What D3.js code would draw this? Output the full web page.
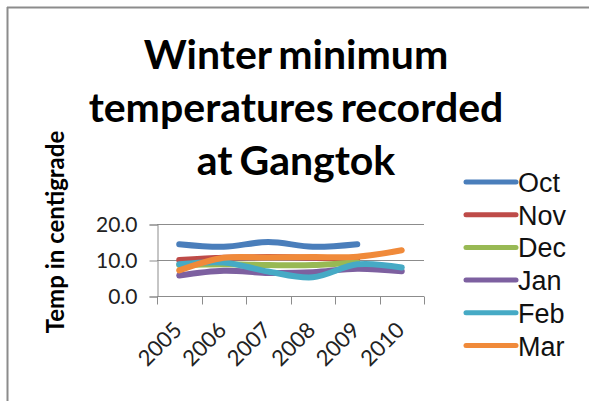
<!DOCTYPE html>
<html>
<head>
<meta charset="utf-8">
<title>Winter minimum temperatures recorded at Gangtok</title>
<style>
  html, body { margin: 0; padding: 0; background: #fff; }
  svg { display: block; }
</style>
</head>
<body>
<svg id="chart" width="589" height="401"></svg>
<script src="https://d3js.org/d3.v7.min.js"></script>
<script>

// data (null = no reading)
const years = ["2005", "2006", "2007", "2008", "2009", "2010"];
const months = ["Oct", "Nov", "Dec", "Jan", "Feb", "Mar"];
const oct = [14.4, 13.7, 15.0, 13.7, 14.4, null];
const nov = [10.0, 10.6, 10.8, 10.6, 10.4, null];
const dec = [8.6, 8.8, 8.6, 8.6, 9.4, null];
const jan = [5.7, 7.0, 6.4, 6.6, 7.6, 6.9];
const feb = [8.8, 9.3, 6.8, 5.2, 8.8, 7.9];
const mar = [7.1, 10.6, 10.7, 10.8, 10.9, 12.7];
const yTicks = [0, 10, 20];
const titleLines = ["Winter minimum", "temperatures recorded", "at Gangtok"];

const series = [oct, nov, dec, jan, feb, mar];
const colors = ["#4a7ebb", "#be4b48", "#98b954", "#7d60a0", "#46aac5", "#f08a3a"];

const svg = d3.select("#chart");

// frame (only top and left edges show)
svg.append("line").attr("x1", 7).attr("x2", 589).attr("y1", 7.5).attr("y2", 7.5)
  .attr("stroke", "#8c8c8c").attr("stroke-width", 2);
svg.append("line").attr("x1", 7.5).attr("x2", 7.5).attr("y1", 7).attr("y2", 401)
  .attr("stroke", "#8c8c8c").attr("stroke-width", 2);

// title
svg.append("g").selectAll("text")
  .data(titleLines)
  .join("text")
    .attr("x", 296)
    .attr("y", (d, i) => 69 + i * 53)
    .attr("text-anchor", "middle")
    .attr("font-family", "Lato, 'Open Sans', sans-serif")
    .attr("font-weight", "bold")
    .attr("font-size", 41)
    .attr("word-spacing", -3)
    .attr("fill", "#000")
    .text(d => d);

// scales
const x = d3.scaleBand().domain(years).range([157, 424]);
const y = d3.scaleLinear().domain([0, 20]).range([296, 224]);

// gridlines
svg.append("g").selectAll("line")
  .data(yTicks.filter(d => d > 0))
  .join("line")
    .attr("x1", 157).attr("x2", 424)
    .attr("y1", d => Math.round(y(d)) + 0.5).attr("y2", d => Math.round(y(d)) + 0.5)
    .attr("stroke", "#8c8c8c");

// y axis
const yAxis = svg.append("g")
  .attr("transform", "translate(157.5,0.5)")
  .call(d3.axisLeft(y).tickValues(yTicks).tickFormat(d3.format(".1f")).tickSize(8).tickPadding(12));
yAxis.select(".domain").attr("stroke", "#8c8c8c");
yAxis.selectAll(".tick line").attr("stroke", "#8c8c8c");
yAxis.selectAll("text")
  .attr("font-family", "Lato, 'Open Sans', sans-serif")
  .attr("font-size", 21)
  .attr("fill", "#222");

// x axis: ticks at category boundaries
const xAxis = svg.append("g").attr("transform", "translate(0,296.5)");
xAxis.append("line").attr("x1", 157).attr("x2", 424).attr("stroke", "#8c8c8c");
xAxis.selectAll(".bt")
  .data(years.concat(["end"]))
  .join("line")
    .attr("class", "bt")
    .attr("x1", (d, i) => Math.round(i < years.length ? x(d) : x.range()[1]) + 0.5)
    .attr("x2", (d, i) => Math.round(i < years.length ? x(d) : x.range()[1]) + 0.5)
    .attr("y1", 0).attr("y2", 8)
    .attr("stroke", "#8c8c8c");
xAxis.selectAll("text")
  .data(years)
  .join("text")
    .attr("transform", d => `translate(${x(d) + x.bandwidth() / 2 + 4},${35}) rotate(-45)`)
    .attr("text-anchor", "end")
    .attr("font-family", "Lato, 'Open Sans', sans-serif")
    .attr("font-size", 22)
    .attr("fill", "#222")
    .text(d => d);

// y axis title
svg.append("text")
  .attr("transform", "translate(64,232) rotate(-90)")
  .attr("text-anchor", "middle")
  .attr("font-family", "Lato, 'Open Sans', sans-serif")
  .attr("font-weight", "bold")
  .attr("font-size", 24)
  .attr("fill", "#000")
  .text("Temp in centigrade");

// lines
const line = d3.line()
  .defined(d => d != null)
  .x((d, i) => x(years[i]) + x.bandwidth() / 2)
  .y(d => y(d))
  .curve(d3.curveCatmullRom.alpha(0));

svg.append("g").selectAll("path")
  .data(series)
  .join("path")
    .attr("d", d => line(d))
    .attr("fill", "none")
    .attr("stroke", (d, i) => colors[i])
    .attr("stroke-width", 6)
    .attr("stroke-linecap", "round")
    .attr("stroke-linejoin", "round");

// legend
const legend = svg.append("g").selectAll("g")
  .data(months)
  .join("g")
    .attr("transform", (d, i) => `translate(0,${182 + i * 32.7})`);
legend.append("line")
  .attr("x1", 466).attr("x2", 516)
  .attr("stroke", (d, i) => colors[i])
  .attr("stroke-width", 5)
  .attr("stroke-linecap", "round");
legend.append("text")
  .attr("x", 518)
  .attr("y", 10)
  .attr("font-family", "'Liberation Sans', Arial, sans-serif")
  .attr("font-size", 27)
  .attr("fill", "#111")
  .text(d => d);

</script>
</body>
</html>
